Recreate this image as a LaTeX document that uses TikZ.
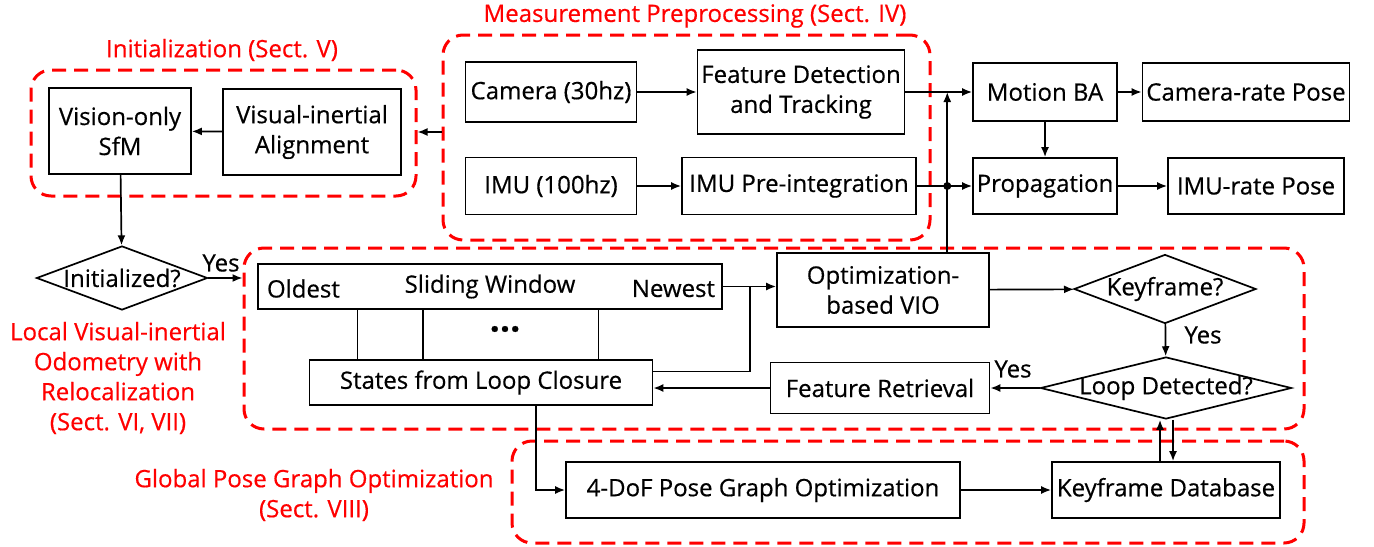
\documentclass[tikz,border=0pt]{standalone}
\usepackage{fontspec}
\setmainfont{Open Sans}[FakeBold=0.5]
\usetikzlibrary{shapes.geometric,arrows.meta,calc}

\begin{document}
\begin{tikzpicture}[x=0.5pt,y=-0.5pt,line width=0.85pt,
    font=\fontsize{12}{15}\selectfont,
    >={Latex[length=5pt,width=4pt]},
    box/.style={draw,inner sep=0pt,align=center},
    decide/.style={draw,diamond,inner sep=0pt},
    region/.style={draw=red,line width=1.5pt,dash pattern=on 7pt off 4pt,rounded corners=10pt,inner sep=0pt},
    redtext/.style={text=red,align=center}]
    \useasboundingbox (0,0) rectangle (1374,546);

    \node[region,minimum width=243.5pt,minimum height=102.5pt] (mpre) at (686.5,137.5) {};
    \node[region,minimum width=192.5pt,minimum height=63pt] (initr) at (223.5,133) {};
    \node[region,minimum width=530pt,minimum height=90.5pt] (local) at (774,338.5) {};
    \node[region,minimum width=396pt,minimum height=51pt] (global) at (908,492) {};

    \node[redtext] (mpret) at (695,16) {Measurement Preprocessing (Sect. IV)};
    \node[redtext] (initt) at (222,50) {Initialization (Sect. V)};
    \node[redtext] (localt) at (118,378) {Local Visual-inertial\\Odometry with\\Relocalization\\(Sect. VI, VII)};
    \node[redtext] (globalt) at (314,495) {Global Pose Graph Optimization\\(Sect. VIII)};

    \node[box,minimum width=85.5pt,minimum height=30pt] (cam) at (551,92) {Camera (30hz)};
    \node[box,minimum width=103.5pt,minimum height=42pt] (fdt) at (801,92) {Feature Detection\\and Tracking};
    \node[box,minimum width=85.5pt,minimum height=28.5pt] (imu) at (551,186) {IMU (100hz)};
    \node[box,minimum width=117pt,minimum height=28.5pt] (pre) at (799,186) {IMU Pre-integration};
    \node[box,minimum width=72pt,minimum height=29pt] (mba) at (1045,92) {Motion BA};
    \node[box,minimum width=103.5pt,minimum height=29pt] (crp) at (1246,92) {Camera-rate Pose};
    \node[box,minimum width=72pt,minimum height=28pt] (prop) at (1045,186) {Propagation};
    \node[box,minimum width=88pt,minimum height=28pt] (irp) at (1256,186) {IMU-rate Pose};

    \node[box,minimum width=71pt,minimum height=43pt] (sfm) at (120,131) {Vision-only\\SfM};
    \node[box,minimum width=89pt,minimum height=43pt] (via) at (312,132) {Visual-inertial\\Alignment};
    \node[decide,minimum width=85.5pt,minimum height=32pt] (initd) at (122,278) {\makebox[0pt]{Initialized?}};
    \node (yes1) at (221,263) {Yes};

    \node[box,minimum width=232pt,minimum height=22.5pt] (sw) at (490,286.5) {Sliding Window};
    \node[anchor=west,inner sep=0pt] (old) at ([xshift=4.5pt,yshift=-1pt]sw.west) {Oldest};
    \node[anchor=east,inner sep=0pt] (new) at ([xshift=-3.5pt,yshift=-1pt]sw.east) {Newest};
    \node[font=\fontsize{18}{18}\selectfont\bfseries] (dots) at (505,329) {...};
    \node[box,minimum width=171.5pt,minimum height=22.5pt] (states) at (481,382.5) {States from Loop Closure};
    \node[box,minimum width=106pt,minimum height=37pt] (opt) at (883,290) {Optimization-\\based VIO};
    \node[decide,minimum width=91pt,minimum height=34.5pt] (kf) at (1165,289) {\makebox[0pt]{Keyframe?}};
    \node (yes2) at (1203,335) {Yes};
    \node[decide,minimum width=125.5pt,minimum height=31pt] (loop) at (1166,388) {\makebox[0pt]{Loop Detected?}};
    \node (yes3) at (1013,369) {Yes};
    \node[box,minimum width=109.5pt,minimum height=25.5pt] (fr) at (880,388) {Feature Retrieval};
    \node[box,minimum width=197pt,minimum height=28pt] (pgo) at (763,490) {4-DoF Pose Graph Optimization};
    \node[box,minimum width=114pt,minimum height=28pt] (kdb) at (1166,490) {Keyframe Database};

    \draw[->] (cam) -- (fdt);
    \draw[->] (imu) -- (pre);
    \draw[->] (fdt) -- (mba);
    \draw[->] (pre) -- (prop);
    \draw[->] (mba) -- (crp);
    \draw[->] (mba) -- (prop);
    \draw[->] (prop) -- (irp);
    \coordinate (bus) at ($(pre.east)!0.55!(prop.west)$);
    \draw[->] (bus |- opt.north) -- (bus |- mba);
    \fill (bus |- prop) circle (2pt);

    \draw[->] (mpre.west |- via) -- (initr.east |- via);
    \draw[->] (via) -- (sfm);
    \draw[->] (sfm) -- (initd);
    \draw[->] (initd) -- (local.west |- initd);

    \foreach \f in {0.2155,0.356,0.733}
        \draw ($(sw.south west)!\f!(sw.south east)$) coordinate (p) -- (p |- states.north);
    \draw[->] (sw.east) -- (opt.west |- sw.east);
    \coordinate (jn) at ($(sw.east)+(27,0)$);
    \draw (jn) |- ([yshift=5.5pt]states.east);
    \draw[->] (opt) -- (kf);
    \draw[->] (kf) -- (loop);
    \draw[->] (loop) -- (fr);
    \draw[->] (fr) -- (states.east |- fr);
    \draw[->] ([xshift=27.5pt]states.south) |- (pgo);
    \draw[->] (pgo) -- (kdb);
    \draw[->] ([xshift=-3pt]kdb.north) -- ([xshift=-3pt]kdb.north |- loop.south);
    \draw[->] ([xshift=3.5pt]kdb.north |- loop.south) -- ([xshift=3.5pt]kdb.north);
\end{tikzpicture}
\end{document}
